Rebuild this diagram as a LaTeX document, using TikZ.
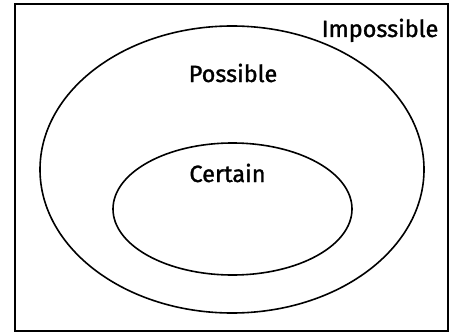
\documentclass[tikz,border=0pt]{standalone}
\usepackage{fontspec}
\newfontfamily\lblfont{Fira Sans}[FakeBold=1.3]
\begin{document}
\begin{tikzpicture}[x=1pt,y=-1pt,
  lbl/.style={font=\lblfont\fontsize{23.5}{26}\selectfont, inner sep=0pt},
  outline/.style={draw=black, line width=1.6pt}]
\useasboundingbox (0,0) rectangle (454,334);
\draw[outline, line width=2pt] (15,4) rectangle (448,331);
\draw[outline] (232,169.5) ellipse [x radius=192, y radius=143.5];
\draw[outline] (232.5,209) ellipse [x radius=119.5, y radius=66];
\node[lbl, anchor=base] (imp) at (380,37) {Impossible};
\node[lbl, anchor=base] (pos) at (233,82) {Possible};
\node[lbl, anchor=base] (cer) at (227.5,182) {Certain};
\end{tikzpicture}
\end{document}
